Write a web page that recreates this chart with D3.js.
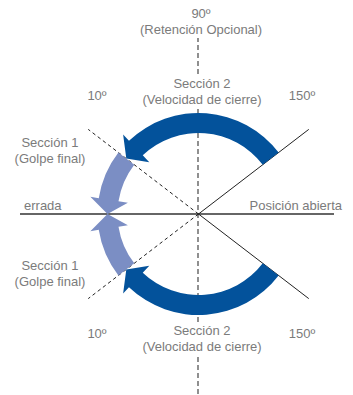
<!DOCTYPE html>
<html>
<head>
<meta charset="utf-8">
<script src="https://cdn.jsdelivr.net/npm/d3@7"></script>
<style>
  body { margin: 0; background: #fff; }
  text { font-family: "Liberation Sans", Arial, sans-serif; font-size: 13px; fill: #7b7b7b; }
</style>
</head>
<body>
<div id="chart"></div>
<script>
// door swing diagram: angles in degrees, counter-clockwise from "Posición abierta"
var lineAngles = [37.5, -37.5, 142.5, -142.5];
var lineKinds = ["solid", "solid", "dashed", "dashed"];

var sectionNames = ["Sección 2", "Sección 1", "Sección 2", "Sección 1"];
var sectionStart = [37.5, 142.5, -37.5, -142.5];
var sectionEnd = [142.5, 180, -142.5, -180];

var sectionLabels = ["Sección 1", "(Golpe final)"];
var speedLabels = ["Sección 2", "(Velocidad de cierre)"];
var holdLabels = ["90º", "(Retención Opcional)"];
var angleLabels = ["10º", "150º"];
var axisLabels = ["errada", "Posición abierta"];

var w = 353, h = 395;
var cx = 198.5, cy = 214;

var svg = d3.select("#chart").append("svg")
  .attr("width", w)
  .attr("height", h);

var rad = d3.scaleLinear().domain([0, 360]).range([0, 2 * Math.PI]);
var band = d3.scaleLinear().domain([0, 1]).range([81, 101]);
var color = d3.scaleOrdinal()
  .domain(["Sección 1", "Sección 2"])
  .range(["#7b8ec4", "#03529b"]);

function pt(r, a) {
  return [cx + r * Math.cos(rad(a)), cy - r * Math.sin(rad(a))];
}

// vertical dashed line (90º)
svg.append("line")
  .attr("x1", 198).attr("x2", 198)
  .attr("y1", 37).attr("y2", h)
  .attr("stroke", "#555")
  .attr("stroke-width", 1.3)
  .attr("stroke-dasharray", "5,3");

// horizontal axis
svg.append("line")
  .attr("x1", 20).attr("x2", 334)
  .attr("y1", cy).attr("y2", cy)
  .attr("stroke", "#333")
  .attr("stroke-width", 1.5);

// diagonal reference lines
svg.append("g").selectAll("line")
  .data(lineAngles)
  .enter().append("line")
  .attr("x1", cx).attr("y1", cy)
  .attr("x2", function(d) { return pt(139, d)[0]; })
  .attr("y2", function(d) { return pt(139, d)[1]; })
  .attr("stroke", "#222")
  .attr("stroke-width", 1)
  .attr("stroke-dasharray", function(d, i) { return lineKinds[i] == "dashed" ? "3.5,3" : null; });

// curved arrows
function arrowPath(i) {
  var a0 = sectionStart[i], a1 = sectionEnd[i];
  var dir = a1 > a0 ? 1 : -1;
  var base = a1 - dir * 9;
  var r0 = band(0), r1 = band(1), rm = band(0.5);
  var p = d3.path();
  var s = pt(r1, a0);
  p.moveTo(s[0], s[1]);
  p.arc(cx, cy, r1, -rad(a0), -rad(base), dir > 0);
  var q = pt(r1 + 8.5, base); p.lineTo(q[0], q[1]);
  q = pt(rm, a1); p.lineTo(q[0], q[1]);
  q = pt(r0 - 9.5, base); p.lineTo(q[0], q[1]);
  q = pt(r0, base); p.lineTo(q[0], q[1]);
  p.arc(cx, cy, r0, -rad(base), -rad(a0), dir < 0);
  p.closePath();
  return p.toString();
}

// light ones first so the dark heads sit on top
var order = [1, 3, 0, 2];
svg.append("g").selectAll("path")
  .data(order)
  .enter().append("path")
  .attr("d", function(i) { return arrowPath(i); })
  .attr("fill", function(i) { return color(sectionNames[i]); });

// labels
function label(lines, x, y, anchor, blank) {
  var g = svg.append("g");
  g.selectAll("text")
    .data(lines)
    .enter().append("text")
    .attr("x", x)
    .attr("y", function(d, i) { return y + i * 16; })
    .attr("text-anchor", anchor)
    .text(function(d) { return d; });
  if (blank) {
    var b = g.node().getBBox();
    g.insert("rect", "text")
      .attr("x", b.x - 2).attr("y", b.y - 1)
      .attr("width", b.width + 4).attr("height", b.height + 2)
      .attr("fill", "#fff");
  }
}

label(holdLabels, 201, 18, "middle", true);
label(speedLabels, 202, 88, "middle", true);
label(speedLabels, 202, 335, "middle", true);
label(sectionLabels, 50, 147, "middle", false);
label(sectionLabels, 50, 270, "middle", false);
label([angleLabels[0]], 97, 100, "middle", false);
label([angleLabels[1]], 302, 100, "middle", false);
label([angleLabels[0]], 97, 338, "middle", false);
label([angleLabels[1]], 302, 338, "middle", false);
label([axisLabels[0]], 24, 210, "start", false);
label([axisLabels[1]], 342, 210, "end", false);
</script>
</body>
</html>
